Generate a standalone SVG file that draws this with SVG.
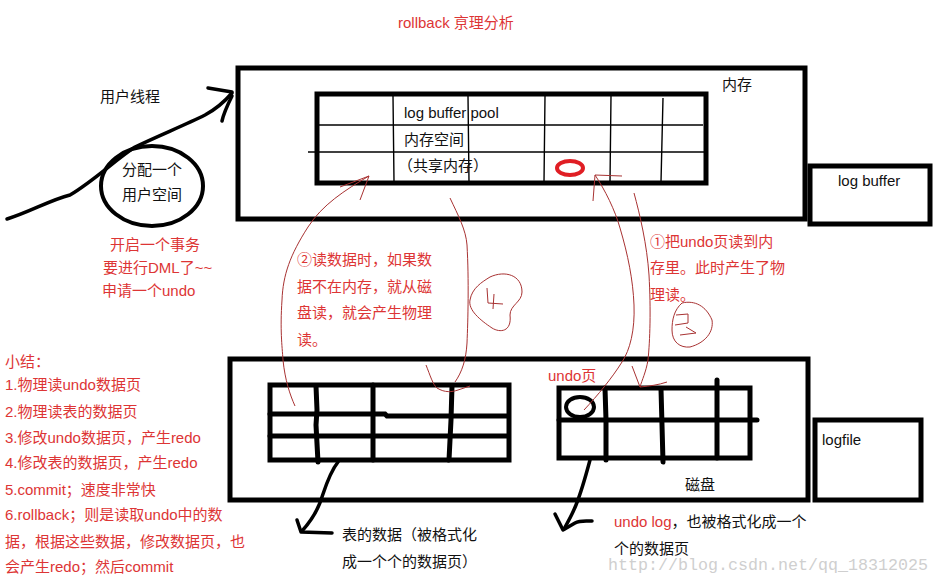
<svg xmlns="http://www.w3.org/2000/svg" width="940" height="582" viewBox="0 0 940 582">
<style>
  text { font-family: "Liberation Sans", "Noto Sans CJK SC", sans-serif; font-size: 15px; }
  .blk { fill: #111; }
  .red { fill: #dd3535; }
  .box { fill: none; stroke: #000; stroke-width: 5; }
  .thin { fill: none; stroke: #000; stroke-width: 1.4; }
  .thick { fill: none; stroke: #000; stroke-width: 5; stroke-linecap: round; }
  .hand { fill: none; stroke: #a83232; stroke-width: 1; }
  .ink { fill: none; stroke: #000; stroke-width: 3.5; stroke-linecap: round; stroke-linejoin: round; }
  .wm { font-family: "Liberation Mono", monospace; font-size: 17px; fill: #cfcfcf; }
</style>
<rect width="940" height="582" fill="#fff"/>

<text class="red" x="398" y="28">rollback 亰理分析</text>

<g id="memory">
  <rect class="box" x="238" y="68" width="567" height="151"/>
  <text class="blk" x="722" y="90" font-size="14">内存</text>
</g>

<g id="log-buffer-pool">
  <rect class="box" x="317" y="94" width="389" height="89"/>
  <line class="thin" x1="317" y1="125" x2="703" y2="125"/>
  <line class="thin" x1="308" y1="152" x2="706" y2="152"/>
  <path class="thin" d="M393,96 L394,182 M468,96 L469,182 M545,96 L544,182 M611,96 L610,182 M663,98 L661,182"/>
  <text class="blk" x="404" y="118">log buffer pool</text>
  <text class="blk" x="404" y="145">内存空间</text>
  <text class="blk" x="398" y="171">（共享内存）</text>
  <ellipse cx="570" cy="168" rx="13" ry="7" fill="none" stroke="#e01e24" stroke-width="4"/>
</g>

<g id="log-buffer">
  <rect class="box" x="810" y="166" width="120" height="58"/>
  <text class="blk" x="838" y="186">log buffer</text>
</g>

<g id="user-thread">
  <text class="blk" x="100" y="102">用户线程</text>
</g>

<g id="user-space">
  <ellipse cx="152" cy="186" rx="51" ry="40" fill="none" stroke="#000" stroke-width="4"/>
  <text class="blk" x="152" y="175" text-anchor="middle">分配一个</text>
  <text class="blk" x="152" y="200" text-anchor="middle">用户空间</text>
</g>

<g id="transaction-note">
  <text class="red" x="110" y="250">开启一个事务</text>
  <text class="red" x="103" y="273">要进行DML了~~</text>
  <text class="red" x="102" y="296">申请一个undo</text>
</g>

<g id="summary">
  <text class="red" x="5" y="367">小结：</text>
  <text class="red" x="5" y="390">1.物理读undo数据页</text>
  <text class="red" x="5" y="417">2.物理读表的数据页</text>
  <text class="red" x="5" y="443">3.修改undo数据页，产生redo</text>
  <text class="red" x="5" y="468">4.修改表的数据页，产生redo</text>
  <text class="red" x="5" y="495">5.commit；速度非常快</text>
  <text class="red" x="5" y="520">6.rollback；则是读取undo中的数</text>
  <text class="red" x="5" y="547">据，根据这些数据，修改数据页，也</text>
  <text class="red" x="5" y="572">会产生redo；然后commit</text>
</g>

<g id="note-2">
  <text class="red" x="297" y="265">②读数据时，如果数</text>
  <text class="red" x="297" y="292">据不在内存，就从磁</text>
  <text class="red" x="297" y="318">盘读，就会产生物理</text>
  <text class="red" x="297" y="345">读。</text>
</g>

<g id="note-1">
  <text class="red" x="650" y="247">①把undo页读到内</text>
  <text class="red" x="650" y="273">存里。此时产生了物</text>
  <text class="red" x="650" y="300">理读。</text>
</g>

<g id="disk">
  <rect class="box" x="230" y="359" width="578" height="141"/>
  <text class="blk" x="685" y="490">磁盘</text>
</g>

<g id="logfile">
  <rect class="box" x="815" y="420" width="106" height="80"/>
  <text class="blk" x="822" y="445">logfile</text>
</g>

<g id="table-data">
  <rect class="box" x="270" y="385" width="239" height="75"/>
  <path class="thick" d="M270,414 L385,414 L387,416 L508,416"/>
  <line class="thick" x1="270" y1="436" x2="508" y2="436"/>
  <path class="thick" d="M316,386 L317,410 L316,425 L318,462"/>
  <line class="thick" x1="373" y1="385" x2="373" y2="460"/>
  <path class="thick" d="M452,386 L451,420 L449,460"/>
</g>

<g id="undo-page">
  <rect class="box" x="559" y="388" width="191" height="70"/>
  <line class="thick" x1="559" y1="420" x2="757" y2="420"/>
  <path class="thick" d="M605,388 L606,420 L606,460"/>
  <path class="thick" d="M661,389 L662,425 L663,462"/>
  <line class="thick" x1="717" y1="380" x2="717" y2="458"/>
  <ellipse cx="580" cy="407" rx="14" ry="10" fill="none" stroke="#000" stroke-width="4"/>
  <text class="red" x="548" y="381">undo页</text>
</g>

<g id="labels-bottom">
  <text class="blk" x="342" y="540">表的数据（被格式化</text>
  <text class="blk" x="342" y="567">成一个个的数据页）</text>
  <text x="614" y="527"><tspan class="red">undo log</tspan><tspan class="blk">，也被格式化成一个</tspan></text>
  <text class="blk" x="614" y="554">个的数据页</text>
  <text class="wm" x="608" y="570" textLength="320" lengthAdjust="spacingAndGlyphs">http://blog.csdn.net/qq_18312025</text>
</g>

<g id="connectors">
  <!-- user thread arrow -->
  <path class="ink" d="M7,219 C 30,212 50,200 70,195 C 95,180 115,160 135,147 C 160,135 185,125 205,115 C 218,108 226,100 232,93"/>
  <path class="ink" d="M208,88 L232,92 M222,121 C 224,112 228,104 232,96"/>
  <!-- table data to label -->
  <path class="ink" d="M338,462 C 330,472 326,485 322,497 C 318,510 312,520 302,531"/>
  <path class="ink" d="M297,520 L301,532 L332,533"/>
  <!-- undo page to label -->
  <path class="ink" d="M590,460 C 586,475 582,490 576,505 C 572,515 568,522 564,529"/>
  <path class="ink" d="M555,514 L563,530 L575,523 C 580,520 586,521 592,521"/>
  <!-- ② read from disk into memory -->
  <path class="hand" d="M369,176 C 345,190 322,205 308,227 C 290,255 283,275 282,300 C 280,330 282,345 283,360 C 285,380 290,395 295,406"/>
  <path class="hand" d="M340,187 L369,176 L360,200"/>
  <path class="hand" d="M450,198 C 458,215 466,230 467,245 C 469,280 468,320 467,343 C 466,360 462,372 455,382"/>
  <path class="hand" d="M426,365 C 430,375 433,385 437,388 C 445,393 452,392 458,390 L470,386"/>
  <path class="hand" d="M490,277 C 505,270 522,275 522,292 C 522,302 510,305 510,315 C 512,332 500,333 492,328 C 480,320 468,310 470,300 C 472,288 482,282 490,277"/>
  <path class="hand" d="M487,288 L488,303 L503,304 M494,294 L493,309"/>
  <!-- ① read undo page into memory -->
  <path class="hand" d="M595,175 C 605,190 615,210 620,228 C 628,255 633,280 634,305 C 635,330 630,350 622,362 C 612,378 598,395 584,410"/>
  <path class="hand" d="M595,175 L622,176 M595,175 L593,201"/>
  <path class="hand" d="M634,193 C 640,215 647,245 649,275 C 651,310 650,340 648,360 C 646,372 642,380 640,387"/>
  <path class="hand" d="M632,366 L640,387 C 650,386 658,385 667,382"/>
  <path class="hand" d="M682,303 C 695,300 706,306 712,320 C 714,332 705,343 690,347 C 680,348 672,342 672,330 C 672,320 674,310 682,303"/>
  <path class="hand" d="M676,315 L688,314 L688,323 L675,325 M686,327 L696,333 L680,335"/>
</g>
</svg>
